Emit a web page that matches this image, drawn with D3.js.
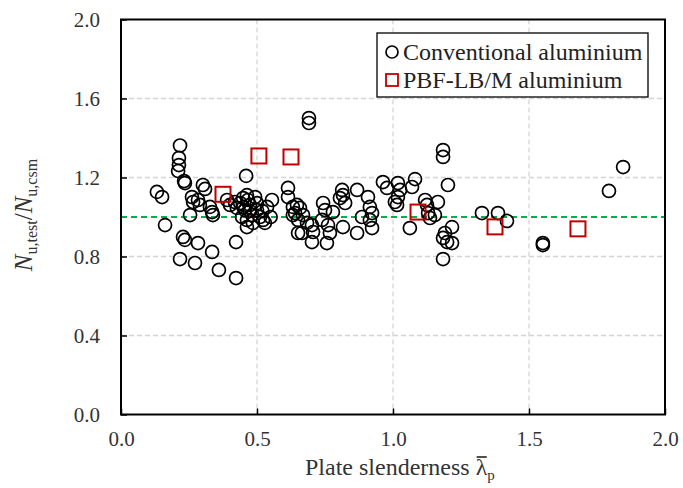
<!DOCTYPE html>
<meta charset="utf-8">
<style>
  body { margin: 0; background: #fff; }
  svg, svg text { font-family: "Liberation Serif", "Times New Roman", Times, serif !important; }
  text { fill: #222; }
  .grid line { stroke: #d4d4d4; stroke-width: 1.3; stroke-dasharray: 5,3; }
  .axis path { display: none; }
  .axis line { stroke: #000; stroke-width: 1.5; }
  .axis text { font-size: 21px; fill: #333; }
</style>
<svg width="683" height="488"></svg>
<script src="https://cdnjs.cloudflare.com/ajax/libs/d3/7.8.5/d3.min.js"></script>
<script>
  // conventional aluminium: [slenderness, Nu,test/Nu,csm]
  var conventional = [
    [0.132, 1.127], [0.151, 1.101], [0.162, 0.959], [0.217, 1.362], [0.213, 1.299],
    [0.213, 1.263], [0.210, 1.233], [0.232, 1.182], [0.235, 1.172], [0.301, 1.162],
    [0.309, 1.142], [0.261, 1.101], [0.265, 1.076], [0.283, 1.086], [0.290, 1.061],
    [0.327, 1.051], [0.335, 1.025], [0.338, 1.010], [0.254, 1.010], [0.228, 0.899],
    [0.235, 0.884], [0.283, 0.868], [0.335, 0.823], [0.217, 0.787], [0.272, 0.767],
    [0.360, 0.732], [0.423, 0.691], [0.423, 0.873], [0.460, 1.208], [0.390, 1.086],
    [0.401, 1.061], [0.419, 1.076], [0.426, 1.046], [0.438, 1.071], [0.449, 1.096],
    [0.463, 1.111], [0.467, 1.086], [0.474, 1.061], [0.456, 1.035], [0.445, 1.000],
    [0.463, 0.985], [0.482, 1.010], [0.485, 0.970], [0.463, 0.949], [0.500, 1.035],
    [0.511, 1.000], [0.522, 0.985], [0.537, 1.051], [0.555, 1.086], [0.529, 0.970],
    [0.493, 1.101], [0.474, 1.030], [0.500, 1.070], [0.450, 1.050], [0.550, 1.000],
    [0.520, 1.030], [0.614, 1.147], [0.614, 1.101], [0.632, 1.051], [0.632, 1.010],
    [0.651, 0.985], [0.651, 0.919], [0.647, 1.061], [0.658, 1.046], [0.640, 1.020],
    [0.669, 1.010], [0.684, 0.970], [0.702, 0.959], [0.706, 0.924], [0.702, 0.873],
    [0.665, 0.919], [0.691, 1.501], [0.691, 1.476], [0.743, 1.071], [0.750, 1.035],
    [0.739, 0.985], [0.761, 0.959], [0.768, 0.919], [0.757, 0.868], [0.779, 1.025],
    [0.813, 1.137], [0.816, 1.111], [0.805, 1.096], [0.824, 1.071], [0.868, 1.137],
    [0.908, 1.101], [0.816, 0.949], [0.868, 0.919], [0.886, 1.000], [0.915, 1.051],
    [0.923, 1.020], [0.915, 0.985], [0.923, 0.944], [0.963, 1.177], [0.978, 1.147],
    [1.018, 1.172], [1.026, 1.137], [1.018, 1.101], [1.007, 1.076], [1.015, 1.061],
    [1.070, 1.152], [1.081, 1.192], [1.062, 0.944], [1.118, 1.086], [1.125, 1.061],
    [1.129, 1.020], [1.136, 0.995], [1.165, 1.076], [1.154, 1.010], [1.184, 1.339],
    [1.184, 1.304], [1.202, 1.162], [1.217, 0.949], [1.191, 0.919], [1.184, 0.894],
    [1.199, 0.873], [1.217, 0.868], [1.184, 0.787], [1.327, 1.020], [1.386, 1.020],
    [1.419, 0.980], [1.551, 0.868], [1.551, 0.858], [1.794, 1.132], [1.846, 1.253]
  ];
  // PBF-LB/M aluminium
  var pbf = [
    [0.375, 1.115], [0.507, 1.309], [0.625, 1.304], [1.092, 1.025], [1.375, 0.950], [1.680, 0.940]
  ];
  var xTicks = [0, 0.5, 1.0, 1.5, 2.0];
  var yTicks = [0, 0.4, 0.8, 1.2, 1.6, 2.0];
  var seriesNames = ["Conventional aluminium", "PBF-LB/M aluminium"];

  var serif = '"Liberation Serif", "Times New Roman", serif';

  var svg = d3.select("svg"),
    margin = {top: 19.5, right: 18, bottom: 73.5, left: 121},
    width = +svg.attr("width") - margin.left - margin.right,
    height = +svg.attr("height") - margin.top - margin.bottom,
    g = svg.append("g").attr("transform", "translate(" + margin.left + "," + margin.top + ")");

  var x = d3.scaleLinear().domain([0, 2]).range([0, width]);
  var y = d3.scaleLinear().domain([0, 2]).range([height, 0]);

  // grid
  var grid = g.append("g").attr("class", "grid");
  grid.selectAll(".gx").data(xTicks.slice(1, -1)).enter().append("line")
    .attr("x1", x).attr("x2", x).attr("y1", 0).attr("y2", height);
  grid.selectAll(".gy").data(yTicks.slice(1, -1)).enter().append("line")
    .attr("y1", y).attr("y2", y).attr("x1", 0).attr("x2", width);

  // axes
  g.append("g").attr("class", "axis")
    .attr("transform", "translate(0," + height + ")")
    .call(d3.axisBottom(x).tickValues(xTicks).tickFormat(d3.format(".1f")).tickSize(-6).tickPadding(17))
    .attr("font-family", serif);
  g.append("g").attr("class", "axis")
    .call(d3.axisLeft(y).tickValues(yTicks).tickFormat(d3.format(".1f")).tickSize(-6).tickPadding(21))
    .attr("font-family", serif);

  // reference line
  g.append("line")
    .attr("x1", 0).attr("x2", width).attr("y1", y(1)).attr("y2", y(1))
    .attr("stroke", "#00b050").attr("stroke-width", 2).attr("stroke-dasharray", "6,4");

  // points
  g.selectAll(".conv").data(conventional).enter().append("circle")
    .attr("cx", function(d) { return x(d[0]); })
    .attr("cy", function(d) { return y(d[1]); })
    .attr("r", 6.5)
    .attr("fill", "none").attr("stroke", "#000").attr("stroke-width", 1.7);

  var sq = 15;
  g.selectAll(".pbf").data(pbf).enter().append("rect")
    .attr("x", function(d) { return x(d[0]) - sq / 2; })
    .attr("y", function(d) { return y(d[1]) - sq / 2; })
    .attr("width", sq).attr("height", sq)
    .attr("fill", "none").attr("stroke", "#c00000").attr("stroke-width", 2);

  // frame
  g.append("rect").attr("width", width).attr("height", height)
    .attr("fill", "none").attr("stroke", "#000").attr("stroke-width", 2);

  // legend
  var legend = svg.append("g").attr("transform", "translate(377,33)");
  legend.append("rect").attr("width", 271).attr("height", 64)
    .attr("fill", "#fff").attr("stroke", "#000").attr("stroke-width", 1.3);
  legend.append("circle").attr("cx", 15).attr("cy", 19).attr("r", 6)
    .attr("fill", "none").attr("stroke", "#000").attr("stroke-width", 1.7);
  legend.append("rect").attr("x", 9).attr("y", 41).attr("width", 12).attr("height", 12)
    .attr("fill", "none").attr("stroke", "#c00000").attr("stroke-width", 1.8);
  legend.selectAll(".lt").data(seriesNames).enter().append("text")
    .attr("x", 26).attr("y", function(d, i) { return 27 + i * 28; })
    .attr("font-family", serif)
    .style("font-size", "24px")
    .text(function(d) { return d; });

  // x title
  var xt = svg.append("text").attr("x", 305).attr("y", 475)
    .attr("font-family", serif).style("font-size", "24px").style("fill", "#333");
  xt.append("tspan").text("Plate slenderness ");
  xt.append("tspan").text("λ");
  xt.append("tspan").attr("dy", 5).style("font-size", "15px").text("p");
  var n = "Plate slenderness ".length;
  var s = xt.node().getStartPositionOfChar(n), e = xt.node().getEndPositionOfChar(n);
  svg.append("line").attr("x1", s.x + 1).attr("x2", e.x - 0.5).attr("y1", 457).attr("y2", 457)
    .attr("stroke", "#222").attr("stroke-width", 1.6);

  // y title
  var yt = svg.append("text").attr("transform", "translate(32,215) rotate(-90)")
    .attr("font-family", serif)
    .attr("text-anchor", "middle").style("font-size", "25px").style("fill", "#333");
  yt.append("tspan").style("font-style", "italic").text("N");
  yt.append("tspan").attr("dy", 5).style("font-size", "16px").text("u,test");
  yt.append("tspan").attr("dy", -5).text("/");
  yt.append("tspan").style("font-style", "italic").text("N");
  yt.append("tspan").attr("dy", 5).style("font-size", "16px").text("u,csm");
</script>
